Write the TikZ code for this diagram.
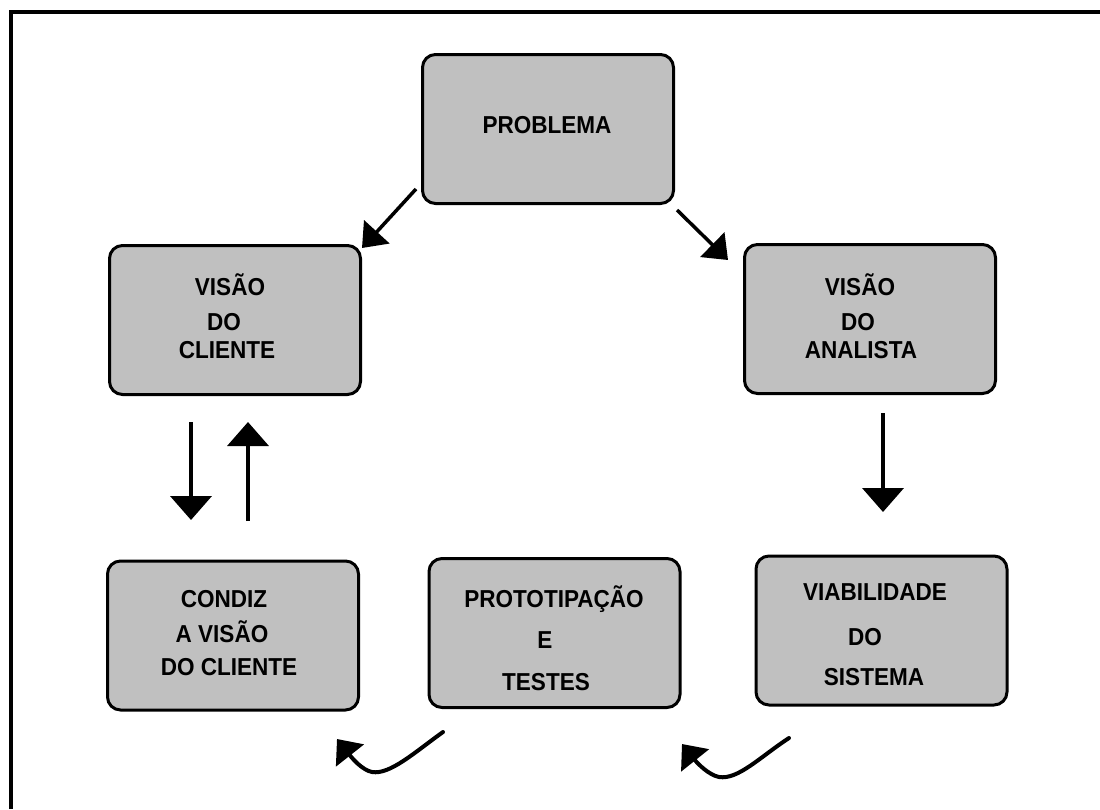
\documentclass[tikz,border=0pt]{standalone}
\usepackage{fontspec}
\setmainfont{Liberation Sans}
\newfontfamily\boxfont[FakeStretch=0.92]{Liberation Sans}
\usetikzlibrary{arrows.meta}
\definecolor{boxgray}{HTML}{C0C0C0}
\begin{document}
\begin{tikzpicture}[x=1pt,y=-1pt,
  box/.style={draw=black, line width=3pt, fill=boxgray, rounded corners=13pt,
    minimum width=251pt, minimum height=149pt, inner sep=0pt},
  lbl/.style={inner sep=0pt, anchor=base, font=\boxfont\bfseries\fontsize{24.5}{28}\selectfont},
  flow/.style={line width=4pt, -{Triangle[length=24pt,width=41pt]}},
  slant/.style={line width=3.5pt, -{Triangle[length=22pt,width=34pt]}},
  turn/.style={line width=4pt, line cap=round, -{Triangle[length=21pt,width=35pt]}}]
\useasboundingbox (0,0) rectangle (1100,809);

% outer frame
\draw[line width=4pt, line join=miter] (10.5,809) -- (10.5,12) -- (1100,12);

% boxes
\node[box] (prob) at (548,129) {};
\node[box] (vcli) at (235,320) {};
\node[box] (vana) at (870,319) {};
\node[box] (cond) at (233,635.5) {};
\node[box] (prot) at (554.5,633) {};
\node[box] (viab) at (881.5,630.5) {};

% box texts
\node[lbl] (prob1) at (547,133) {PROBLEMA};

\node[lbl] (vcli1) at (230,295) {VISÃO};
\node[lbl] (vcli2) at (224,330) {DO};
\node[lbl] (vcli3) at (227,358) {CLIENTE};

\node[lbl] (vana1) at (860,295) {VISÃO};
\node[lbl] (vana2) at (858,330) {DO};
\node[lbl] (vana3) at (861,358) {ANALISTA};

\node[lbl] (cond1) at (224,607) {CONDIZ};
\node[lbl] (cond2) at (222,642) {A VISÃO};
\node[lbl] (cond3) at (229,675) {DO CLIENTE};

\node[lbl] (prot1) at (554,607) {PROTOTIPAÇÃO};
\node[lbl] (prot2) at (545,648) {E};
\node[lbl] (prot3) at (546,690) {TESTES};

\node[lbl] (viab1) at (875,600) {VIABILIDADE};
\node[lbl] (viab2) at (865,645) {DO};
\node[lbl] (viab3) at (874,685) {SISTEMA};

% connector end points
\coordinate (pl) at (416,189);
\coordinate (cl) at (362,248);
\coordinate (pr) at (677,210);
\coordinate (ar) at (728,260);
\coordinate (at) at (883,413);
\coordinate (vt) at (883,512);
\coordinate (cd1) at (191,422);
\coordinate (cd2) at (191,520);
\coordinate (cu1) at (248,521);
\coordinate (cu2) at (248,422);
\coordinate (ps) at (443,732);
\coordinate (pb) at (372,772);
\coordinate (pe) at (337,739);
\coordinate (vs) at (789,738);
\coordinate (vb) at (719,777);
\coordinate (ve) at (682,744);

% straight connectors
\draw[slant] (pl) -- (cl);
\draw[slant] (pr) -- (ar);
\draw[flow] (at) -- (vt);
\draw[flow] (cd1) -- (cd2);
\draw[flow] (cu1) -- (cu2);

% curved connectors along the bottom
\draw[turn] (ps) .. controls (415,752) and (390,775) .. (pb)
  .. controls (362,770) and (352,758) .. (pe);
\draw[turn] (vs) .. controls (760,757) and (738,780) .. (vb)
  .. controls (709,775) and (698,764) .. (ve);
\end{tikzpicture}
\end{document}
